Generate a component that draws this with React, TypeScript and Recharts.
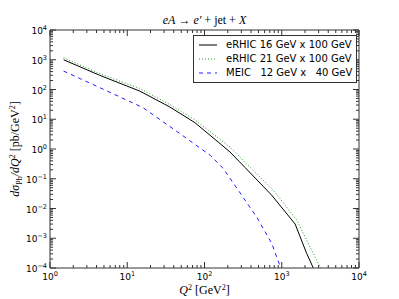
import React from 'react';
import { LineChart, Line, XAxis, YAxis, Legend } from 'recharts';

// Q^2 [GeV^2] and dsigma/dQ^2 [pb/GeV^2]
const q2Rhic16 = [1.5, 4.4, 14.6, 35.7, 75, 151, 214, 334, 741, 1490, 2100, 2560, 2800];
const xsRhic16 = [1000, 300, 88, 25.7, 7.7, 1.7, 0.79, 0.24, 0.028, 0.003, 0.00031, 0.0001, 0.00004];

const q2Rhic21 = [1.5, 4.4, 14.6, 35.7, 75, 160, 214, 350, 815, 1560, 2500, 3180, 3500];
const xsRhic21 = [1170, 340, 108, 31, 9.5, 2.1, 1.15, 0.32, 0.036, 0.0041, 0.00035, 0.0001, 0.00003];

const q2Meic = [1.5, 4, 16, 48, 120, 175, 300, 473, 741, 970, 1100];
const xsMeic = [415, 130, 24.5, 3.3, 0.6, 0.22, 0.029, 0.0052, 0.00068, 0.0001, 0.00002];

const xMajor = [1, 10, 100, 1000, 10000];
const yMajor = [1e-4, 1e-3, 1e-2, 1e-1, 1, 10, 100, 1000, 10000];

const seriesNames = ['eRHIC 16 GeV x 100 GeV', 'eRHIC 21 GeV x 100 GeV', 'MEIC   12 GeV x   40 GeV'];

const toRows = (q: number[], v: number[]) => q.map((x, i) => ({ q2: x, xs: v[i] }));

// major ticks plus 2..9 minor ticks in every decade
const withMinor = (major: number[]) => {
  const out: number[] = [];
  major.forEach((m, i) => {
    out.push(m);
    if (i < major.length - 1) for (let k = 2; k <= 9; k++) out.push(m * k);
  });
  return out;
};

const isMajor = (v: number) => Math.abs(Math.log10(v) - Math.round(Math.log10(v))) < 1e-6;
const expOf = (v: number) => {
  const e = Math.round(Math.log10(v));
  return e < 0 ? '\u2212' + Math.abs(e) : String(e);
};

const FRAME = '#333';
const tickFont = { fontFamily: 'DejaVu Sans', fontSize: 9, fill: '#000' };

function Pow10({ x, y, v, anchor }: { x: number; y: number; v: number; anchor: 'middle' | 'end' }) {
  return (
    <text x={x} y={y} textAnchor={anchor} {...tickFont}>
      <tspan>10</tspan>
      <tspan dy={-4} fontSize={6.5}>{expOf(v)}</tspan>
    </text>
  );
}

function BottomTick(props: any) {
  const { x, y, payload } = props;
  const major = isMajor(payload.value);
  return (
    <g>
      <line x1={x} x2={x} y1={y} y2={y - (major ? 6 : 3)} stroke={FRAME} />
      {major && <Pow10 x={x} y={y + 12} v={payload.value} anchor="middle" />}
    </g>
  );
}

function TopTick(props: any) {
  const { x, y, payload } = props;
  const major = isMajor(payload.value);
  return <line x1={x} x2={x} y1={y} y2={y + (major ? 6 : 3)} stroke={FRAME} />;
}

function LeftTick(props: any) {
  const { x, y, payload } = props;
  const major = isMajor(payload.value);
  return (
    <g>
      <line x1={x} x2={x + (major ? 6 : 3)} y1={y} y2={y} stroke={FRAME} />
      {major && <Pow10 x={x - 3} y={y + 4} v={payload.value} anchor="end" />}
    </g>
  );
}

function RightTick(props: any) {
  const { x, y, payload } = props;
  const major = isMajor(payload.value);
  return <line x1={x} x2={x - (major ? 6 : 3)} y1={y} y2={y} stroke={FRAME} />;
}

const mathFont = { fontFamily: 'Liberation Serif', fontSize: 12, fill: '#000' };

function TitleLabel(props: any) {
  const { viewBox } = props;
  return (
    <text x={viewBox.x + viewBox.width / 2} y={viewBox.y - 5} textAnchor="middle" {...mathFont}>
      <tspan fontStyle="italic">eA</tspan>
      <tspan>{' \u2192 '}</tspan>
      <tspan fontStyle="italic">e{'\u2032'}</tspan>
      <tspan>{' + jet + '}</tspan>
      <tspan fontStyle="italic">X</tspan>
    </text>
  );
}

function XLabel(props: any) {
  const { viewBox } = props;
  return (
    <text x={viewBox.x + viewBox.width / 2} y={viewBox.y + 26} textAnchor="middle" {...mathFont}>
      <tspan fontStyle="italic">Q</tspan>
      <tspan dy={-4} fontSize={8}>2</tspan>
      <tspan dy={4}>{' [GeV'}</tspan>
      <tspan dy={-4} fontSize={8}>2</tspan>
      <tspan dy={4}>]</tspan>
    </text>
  );
}

function YLabel(props: any) {
  const { viewBox } = props;
  const cx = 19;
  const cy = viewBox.y + viewBox.height / 2;
  return (
    <text x={cx} y={cy} textAnchor="middle" transform={`rotate(-90 ${cx} ${cy})`} {...mathFont}>
      <tspan fontStyle="italic">d{'\u03c3'}</tspan>
      <tspan dy={3} fontSize={8}>Pb</tspan>
      <tspan dy={-3} fontStyle="italic">/dQ</tspan>
      <tspan dy={-4} fontSize={8}>2</tspan>
      <tspan dy={4}>{' [pb/GeV'}</tspan>
      <tspan dy={-4} fontSize={8}>2</tspan>
      <tspan dy={4}>]</tspan>
    </text>
  );
}

const lineStyles = [
  { stroke: '#000', dash: undefined as string | undefined },
  { stroke: '#1a9a1a', dash: '1 2' },
  { stroke: '#1f1fff', dash: '4 4' },
];

function LegendBox() {
  return (
    <div
      style={{
        border: `1px solid ${FRAME}`,
        background: '#fff',
        padding: '2px 4px 2px 3px',
        fontFamily: 'DejaVu Sans',
        fontSize: 10,
        lineHeight: '14px',
      }}
    >
      {seriesNames.map((name, i) => (
        <div key={name} style={{ display: 'flex', alignItems: 'center', whiteSpace: 'pre' }}>
          <svg width={29} height={14} style={{ flex: 'none' }}>
            <line
              x1={2}
              x2={20}
              y1={7}
              y2={7}
              stroke={lineStyles[i].stroke}
              strokeDasharray={lineStyles[i].dash}
              strokeWidth={1}
            />
          </svg>
          <span>{name}</span>
        </div>
      ))}
    </div>
  );
}

export default function App() {
  const sets = [toRows(q2Rhic16, xsRhic16), toRows(q2Rhic21, xsRhic21), toRows(q2Meic, xsMeic)];
  const xTicks = withMinor(xMajor);
  const yTicks = withMinor(yMajor);

  return (
    <div style={{ position: 'fixed', left: 0, top: 0, background: '#fff' }}>
      <LineChart width={399} height={299} margin={{ top: 29, right: 39, bottom: 1, left: 0 }}>
        <XAxis
          xAxisId="bottom"
          dataKey="q2"
          type="number"
          scale="log"
          domain={[1, 10000]}
          allowDataOverflow
          ticks={xTicks}
          interval={0}
          tickSize={0}
          tickMargin={0}
          tick={<BottomTick />}
          axisLine={{ stroke: FRAME }}
          height={30}
          label={<XLabel />}
        />
        <XAxis
          xAxisId="top"
          orientation="top"
          dataKey="q2"
          type="number"
          scale="log"
          domain={[1, 10000]}
          allowDataOverflow
          ticks={xTicks}
          interval={0}
          tickSize={0}
          tickMargin={0}
          tick={<TopTick />}
          axisLine={{ stroke: FRAME }}
          height={1}
          label={<TitleLabel />}
        />
        <YAxis
          yAxisId="left"
          dataKey="xs"
          type="number"
          scale="log"
          domain={[1e-4, 1e4]}
          allowDataOverflow
          ticks={yTicks}
          interval={0}
          tickSize={0}
          tickMargin={0}
          tick={<LeftTick />}
          axisLine={{ stroke: FRAME }}
          width={50}
          label={<YLabel />}
        />
        <YAxis
          yAxisId="right"
          orientation="right"
          dataKey="xs"
          type="number"
          scale="log"
          domain={[1e-4, 1e4]}
          allowDataOverflow
          ticks={yTicks}
          interval={0}
          tickSize={0}
          tickMargin={0}
          tick={<RightTick />}
          axisLine={{ stroke: FRAME }}
          width={1}
        />
        {sets.map((rows, i) => (
          <Line
            key={seriesNames[i]}
            data={rows}
            xAxisId="bottom"
            yAxisId="left"
            dataKey="xs"
            name={seriesNames[i]}
            type="linear"
            stroke={lineStyles[i].stroke}
            strokeDasharray={lineStyles[i].dash}
            strokeWidth={1}
            dot={false}
            activeDot={false}
            isAnimationActive={false}
          />
        ))}
        <Legend
          layout="vertical"
          align="center"
          verticalAlign="middle"
          content={<LegendBox />}
          wrapperStyle={{ left: 193, top: 35, width: 'auto' }}
        />
      </LineChart>
    </div>
  );
}
